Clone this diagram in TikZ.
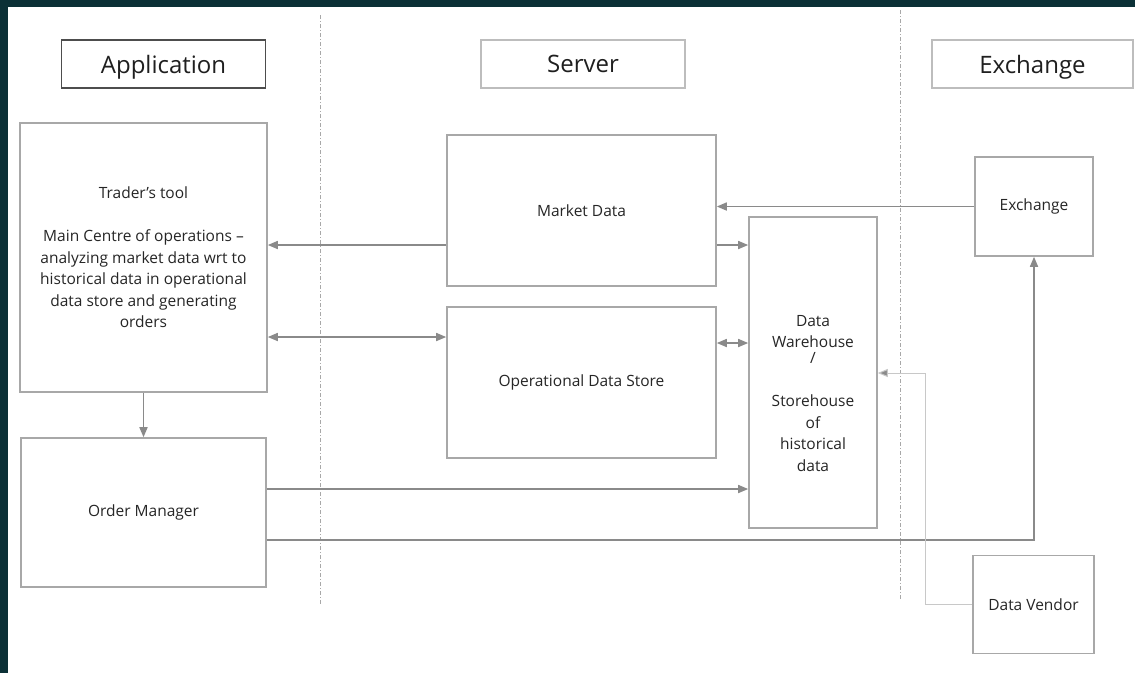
\documentclass[tikz,border=0pt]{standalone}
\usepackage{fontspec}
\setmainfont{Open Sans}
\usetikzlibrary{arrows.meta}
\definecolor{frame}{HTML}{0B3036}
\definecolor{boxgray}{HTML}{A8A8A8}
\definecolor{arrgray}{HTML}{8A8A8A}
\definecolor{hdrdark}{HTML}{4D4D4D}
\definecolor{hdrlight}{HTML}{BDBDBD}
\definecolor{txt}{HTML}{262626}
\definecolor{vendline}{HTML}{C8C8C8}
\tikzset{
  box/.style={draw=boxgray, line width=1.6pt, rectangle, inner sep=0pt, text=txt,
    font=\fontsize{15.5}{21.5}\selectfont, align=center},
  hdr/.style={draw=hdrlight, line width=1.2pt, rectangle, inner sep=0pt, text=black!88,
    font=\fontsize{24}{28}\selectfont, minimum width=204pt, minimum height=48pt, text depth=0pt},
  arr/.style={draw=arrgray, line width=1.6pt, -{Triangle[length=10pt,width=8pt]}},
  darr/.style={draw=arrgray, line width=1.6pt, {Triangle[length=10pt,width=8pt]}-{Triangle[length=10pt,width=8pt]}},
  thinarr/.style={draw=vendline, line width=1pt, -{Triangle[length=10pt,width=8pt,fill=arrgray]}},
  divider/.style={draw=boxgray, line width=0.9pt, dash pattern=on 4pt off 2pt on 1pt off 2pt},
}
\begin{document}
\begin{tikzpicture}[x=1pt,y=-1pt]
\useasboundingbox (0,0) rectangle (1135,673);
\fill[frame] (0,0) rectangle (1135,673);
\fill[white] (8,7) rectangle (1135,673);

% dividers
\coordinate (d1t) at (320,15); \coordinate (d1b) at (320,605);
\coordinate (d2t) at (900,10); \coordinate (d2b) at (900,600);
\draw[divider] (d1t) -- (d1b);
\draw[divider] (d2t) -- (d2b);

% headers
\node[hdr, draw=hdrdark, line width=1.6pt] (happ) at (163.5,64) {Application};
\node[hdr] (hsrv) at (583,64) {Server};
\node[hdr, minimum width=201pt] (hexc) at (1032.5,64) {Exchange};

% boxes
\node[box, minimum width=247pt, minimum height=269pt] (tt) at (143.5,257.5)
  {Trader’s tool\\[21.5pt]Main Centre of operations –\\analyzing market data wrt to\\historical data in operational\\data store and generating\\orders};
\node[box, minimum width=245pt, minimum height=149pt] (om) at (143.5,512.5) {Order Manager};
\node[box, minimum width=269pt, minimum height=151pt] (md) at (581.5,210.5) {Market Data};
\node[box, minimum width=269pt, minimum height=151pt] (ods) at (581.5,382.5) {Operational Data Store};
\node[box, minimum width=128pt, minimum height=311pt] (dw) at (813,372.5) {};
\node[text=txt, font=\fontsize{15.5}{21.5}\selectfont, align=center, inner sep=0pt, anchor=north] (dwtext) at (813,315)
  {Data\\Warehouse\\[-5.5pt]/\\[21.5pt]Storehouse\\of\\historical\\data};
\node[box, minimum width=118pt, minimum height=99pt] (ex) at (1034,206.5) {Exchange};
\node[box, minimum width=121pt, minimum height=98pt] (dv) at (1033.5,604.5) {Data Vendor};

% connectors
\draw[arr] (tt.south) -- (om.north);
\draw[arr] (md.west |- 0,245) -- (tt.east |- 0,245);
\draw[darr] (tt.east |- 0,337) -- (ods.west |- 0,337);
\draw[arr] (ex.west) -- (md.east |- ex.west);
\draw[arr] (md.east |- 0,245) -- (dw.west |- 0,245);
\draw[darr] (ods.east |- 0,343) -- (dw.west |- 0,343);
\draw[arr] (om.east |- 0,489) -- (dw.west |- 0,489);
\draw[arr] (om.east |- 0,540) -| (ex.south);
\coordinate (vbend) at (925,373);
\draw[thinarr] (dv.west) -| (vbend) -- (dw.east |- vbend);
\end{tikzpicture}
\end{document}
